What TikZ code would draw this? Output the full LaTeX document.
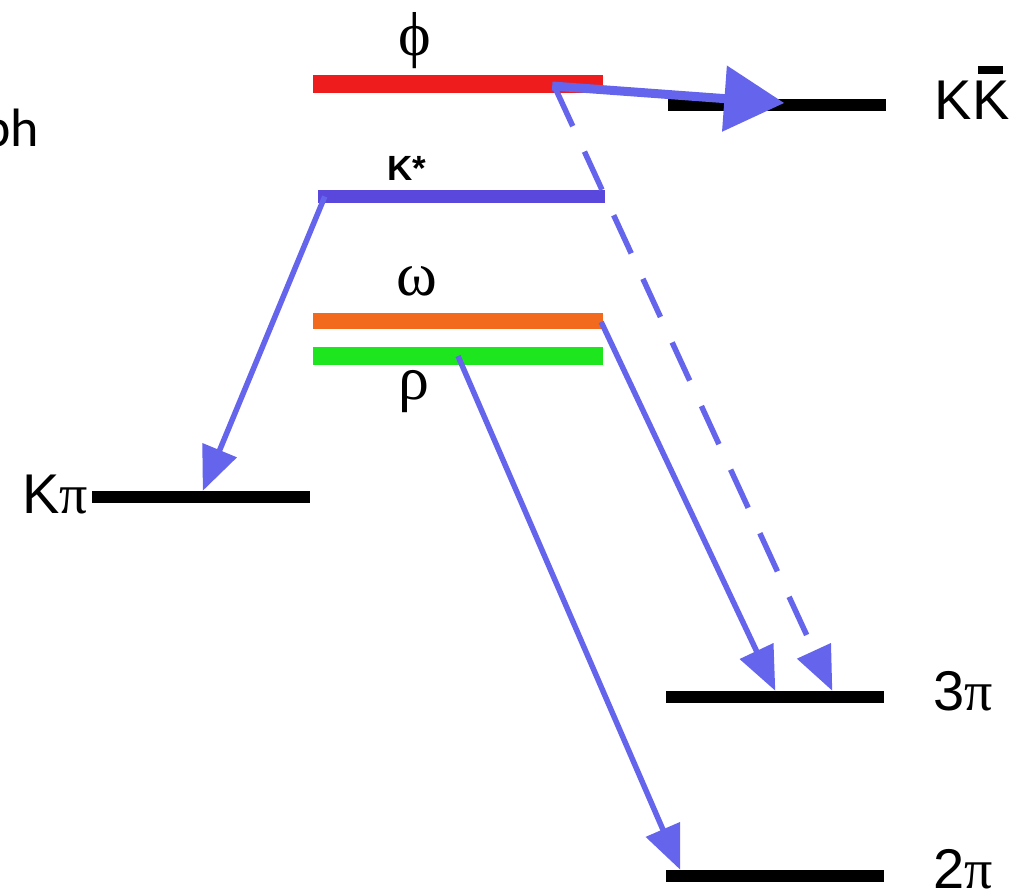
\documentclass[tikz,border=0pt]{standalone}
\usepackage{fontspec}
\setmainfont{Liberation Sans}
\newfontfamily\greekfont{Liberation Serif}
\newfontfamily\notefont{Carlito}
\usetikzlibrary{arrows.meta,positioning,calc}
\definecolor{phicol}{HTML}{EE1C1C}
\definecolor{kstcol}{HTML}{5A48DC}
\definecolor{omegacol}{HTML}{F26A1E}
\definecolor{rhocol}{HTML}{1EE61E}
\definecolor{decaycol}{HTML}{6464EC}
\tikzset{
  statebar/.style={rectangle, inner sep=0pt, minimum width=290pt, minimum height=16pt},
  channel/.style={rectangle, fill=black, inner sep=0pt, minimum width=218pt, minimum height=12pt},
  decay/.style={-{Triangle[length=44pt, width=36pt]}, draw=decaycol, line width=5.5pt},
  bigdecay/.style={-{Triangle[length=60pt, width=64pt]}, draw=decaycol, line width=9pt},
  lbl/.style={font=\fontsize{56}{60}\selectfont, inner sep=0pt},
  grk/.style={font=\fontsize{62}{66}\selectfont\greekfont, inner sep=0pt},
}
\newcommand{\gpi}{{\greekfont π}}

\begin{document}
\begin{tikzpicture}[x=1pt, y=-1pt]
  \useasboundingbox (0,0) rectangle (1022,894);
  \clip (0,0) rectangle (1022,894);
  % resonances
  \node[statebar, fill=phicol, minimum height=18pt] (phi) at (458,84) {};
  \node[statebar, fill=kstcol, minimum width=287pt, minimum height=13pt] (kst) at (461.5,196.5) {};
  \node[statebar, fill=omegacol] (omega) at (458,321) {};
  \node[statebar, fill=rhocol, minimum height=18pt] (rho) at (458,356) {};
  \node[grk] (philbl) at (415,41) {ϕ};
  \node[font=\fontsize{35}{38}\selectfont\bfseries, inner sep=0pt] (kstlbl) at (407,168) {K*};
  \node[grk] (omegalbl) at (417,281) {ω};
  \node[grk] (rholbl) at (414,392) {ρ};
  % decay channels
  \node[channel] (kk) at (776.5,105) {};
  \node[channel] (kpi) at (201,497) {};
  \node[channel] (pi3) at (774.5,697) {};
  \node[channel] (pi2) at (774.5,876) {};
  \node[lbl] (kklbl) at (972,100) {K\ooalign{K\cr\hidewidth\rule[0.8em]{0.44em}{0.16em}\hidewidth\cr}};
  \node[lbl, anchor=east] (kpilbl) at (88,495) {K\gpi};
  \node[lbl] (pi3lbl) at (963,691) {3\gpi};
  \node[lbl] (pi2lbl) at (963,869) {2\gpi};
  \node[font=\fontsize{54}{58}\selectfont\notefont, anchor=base east, inner sep=0pt] (note) at (39,146) {ph};
  % decays
  \draw[decay] ($(kst.west)+(7,0)$) -- ($(kpi.north west)+(111,0)$);
  \draw[decay] ($(omega.east)+(-2,1)$) -- ($(pi3.north west)+(110,0)$);
  \draw[decay] (rho.center) -- ($(pi2.north west)+(15,0)$);
  \draw[decay, dash pattern=on 42pt off 28pt] ($(phi.east)+(-48,4)$) -- ($(pi3.north west)+(167,0)$);
  \draw[bigdecay] ($(phi.east)+(-51,2)$) -- ($(kk.west)+(117,-2)$);
\end{tikzpicture}
\end{document}
